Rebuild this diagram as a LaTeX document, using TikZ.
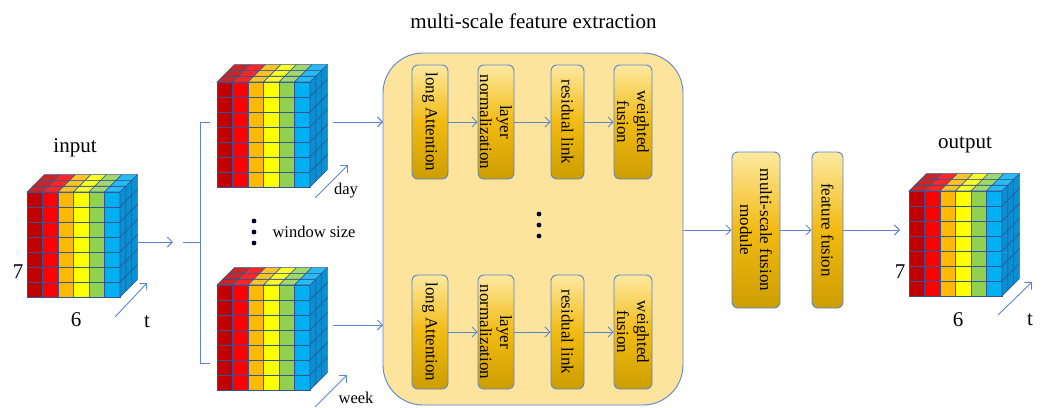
\documentclass[tikz,border=0pt]{standalone}
\usepackage{fontspec}
\setmainfont{Liberation Serif}
\usetikzlibrary{arrows.meta}
\definecolor{linec}{HTML}{5B85D0}
\definecolor{gridc}{HTML}{2F5597}
\definecolor{cA}{HTML}{C00000}
\definecolor{cB}{HTML}{FF0000}
\definecolor{cC}{HTML}{FFB900}
\definecolor{cD}{HTML}{FFFF00}
\definecolor{cE}{HTML}{92D050}
\definecolor{cF}{HTML}{00B0F0}
\definecolor{sidec}{HTML}{0A8FD2}
\definecolor{bigfill}{HTML}{FCE49C}
\definecolor{boxtop}{HTML}{FDE9A0}
\definecolor{boxmid}{HTML}{F2BA12}
\definecolor{boxbot}{HTML}{CC9E00}
\tikzset{
  conn/.style={draw=linec, line width=0.9pt, -{Straight Barb[length=5pt,width=10pt]}},
  plain/.style={draw=linec, line width=0.9pt},
  fbox/.style={draw=linec, line width=0.9pt, rounded corners=6pt, top color=boxtop, bottom color=boxbot, middle color=boxmid, inner sep=0pt},
  vtext/.style={rotate=-90, align=center, font=\fontsize{17}{20}\selectfont},
  lab/.style={font=\fontsize{21}{23}\selectfont, inner sep=0pt},
  slab/.style={font=\fontsize{16.5}{18}\selectfont, inner sep=0pt},
  vox/.pic={
    \foreach \i/\c in {0/cA,1/cB,2/cC,3/cD,4/cE,5/cF}{
      \foreach \j in {0,...,6}{
        \filldraw[fill=\c, draw=gridc, line width=1pt] (\i*15.5,\j*15) rectangle ++(15.5,15);
      }
      \foreach \k in {0,1,2}{
        \filldraw[fill=\c!85!white, draw=gridc, line width=0.6pt] (\i*15.5+\k*5.8,-\k*5.8) -- ++(15.5,0) -- ++(5.8,-5.8) -- ++(-15.5,0) -- cycle;
      }
    }
    \foreach \j in {0,...,6}{
      \foreach \k in {0,1,2}{
        \filldraw[fill=sidec, draw=gridc, line width=0.6pt] (93+\k*5.8,\j*15-\k*5.8) -- ++(5.8,-5.8) -- ++(0,15) -- ++(-5.8,5.8) -- cycle;
      }
    }
  }
}
\begin{document}
\begin{tikzpicture}[x=1pt,y=-1pt]
\useasboundingbox (0,0) rectangle (1043,407);
% title
\node[lab] (title) at (533.5,21) {multi-scale feature extraction};
% big box
\filldraw[fill=bigfill, draw=linec, line width=0.9pt, rounded corners=40pt] (383,53) rectangle (683,405);
\coordinate (bigL1) at (383,122);
\coordinate (bigL2) at (383,325);
\coordinate (bigR) at (683,230);
% cubes
\pic at (27,192) {vox};
\pic at (217,82) {vox};
\pic at (217,285) {vox};
\pic at (909,191) {vox};
\coordinate (inR) at (138,242);
\coordinate (dayR) at (333,122);
\coordinate (weekR) at (333,325);
\coordinate (outL) at (900,230);
% labels
\node[lab] (inlab) at (75,148) {input};
\node[lab] (outlab) at (965,145) {output};
\node[lab] (in7) at (18,272) {7};
\node[lab] (in6) at (76,320) {6};
\node[lab] (int) at (147,322) {t};
\node[lab] (out7) at (900,272) {7};
\node[lab] (out6) at (958,320) {6};
\node[lab] (outt) at (1030,320) {t};
\node[slab] (daylab) at (346,191) {day};
\node[slab] (weeklab) at (356,398) {week};
\node[slab] (winlab) at (314,232) {window size};
% depth arrows
\coordinate (ta1) at (115,317); \coordinate (tb1) at (147,283);
\coordinate (ta2) at (315,198); \coordinate (tb2) at (348,165);
\coordinate (ta3) at (315,407); \coordinate (tb3) at (347,375);
\coordinate (ta4) at (998,315); \coordinate (tb4) at (1032,282);
\draw[conn] (ta1) -- (tb1);
\draw[conn] (ta2) -- (tb2);
\draw[conn] (ta3) -- (tb3);
\draw[conn] (ta4) -- (tb4);
% dots
\foreach \y in {221,232,243} \fill[black!85!blue] (254,\y) circle (2.4pt);
\foreach \y in {214,225,236} \fill[black!85!blue] (539,\y) circle (2.4pt);
% splitting bracket
\coordinate (inA) at (173,242);
\coordinate (brS) at (183,242);
\coordinate (brM) at (200,242);
\coordinate (brT) at (200,122);
\coordinate (brB) at (200,363);
\coordinate (brTe) at (210,122);
\coordinate (brBe) at (210,363);
\draw[conn] (inR) -- (inA);
\draw[plain] (brS) -- (brM);
\draw[plain] (brTe) -- (brT) -- (brB) -- (brBe);
\draw[conn] (dayR) -- (bigL1);
\draw[conn] (weekR) -- (bigL2);
% inner boxes
\node[fbox, minimum width=36pt, minimum height=114pt] (a1) at (430,122) {};
\node[fbox, minimum width=36pt, minimum height=114pt] (a2) at (496,122) {};
\node[fbox, minimum width=33pt, minimum height=114pt] (a3) at (567.5,122) {};
\node[fbox, minimum width=38pt, minimum height=114pt] (a4) at (633,122) {};
\node[fbox, minimum width=36pt, minimum height=114pt] (b1) at (430,332) {};
\node[fbox, minimum width=36pt, minimum height=114pt] (b2) at (496,332) {};
\node[fbox, minimum width=33pt, minimum height=114pt] (b3) at (567.5,332) {};
\node[fbox, minimum width=38pt, minimum height=114pt] (b4) at (633,332) {};
\foreach \r in {a,b}{
  \node[vtext] at (\r1) {long Attention};
  \node[vtext] at (\r2) {layer\\normalization};
  \node[vtext] at (\r3) {residual link};
  \node[vtext] at (\r4) {weighted\\fusion};
  \draw[conn] (\r1) -- (\r2);
  \draw[conn] (\r2) -- (\r3);
  \draw[conn] (\r3) -- (\r4);
}
% fusion
\node[fbox, minimum width=48pt, minimum height=156pt] (msf) at (756,230) {};
\node[vtext] at (msf) {multi-scale fusion\\module};
\node[fbox, minimum width=31pt, minimum height=156pt] (ff) at (827.5,230) {};
\node[vtext] at (ff) {feature fusion};
\draw[conn] (bigR) -- (msf);
\draw[conn] (msf) -- (ff);
\draw[conn] (ff) -- (outL);
\end{tikzpicture}
\end{document}
